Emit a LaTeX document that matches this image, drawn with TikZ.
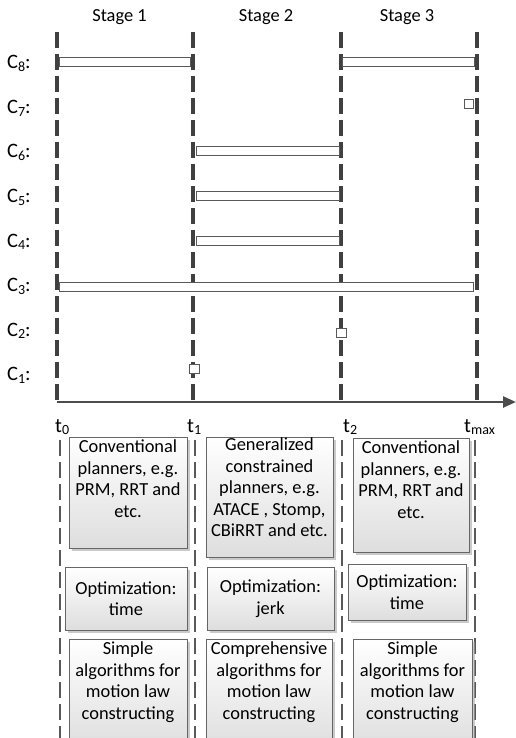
\documentclass[tikz,border=0pt]{standalone}
\usepackage{fontspec}
\setmainfont{Carlito}
\usetikzlibrary{arrows.meta,shadows}
\newcommand\mysub[1]{\raisebox{-0.14em}{\fontsize{14}{14}\selectfont #1}}
\tikzset{
  vline/.style={draw=black!75, line width=3.2pt, dash pattern=on 16pt off 6pt},
  lline/.style={draw=black!65, line width=2.2pt, dash pattern=on 16pt off 6pt},
  bar/.style={draw=black!65, fill=white, line width=0.9pt, inner sep=0pt, minimum height=9pt},
  sq/.style={draw=black!65, fill=white, line width=0.9pt, inner sep=0pt, minimum width=9pt, minimum height=9pt},
  lbl/.style={inner sep=0pt, font=\fontsize{18.4}{21.5}\selectfont},
  biglbl/.style={inner sep=0pt, font=\fontsize{20.5}{22}\selectfont},
  box/.style={draw=black!60, line width=0.9pt, top color=white, bottom color=black!13, inner sep=0pt,
    drop shadow={shadow xshift=2.5pt, shadow yshift=-2.5pt, fill=black!35, opacity=0.6}},
  boxtext/.style={lbl, align=center, anchor=north},
}
\begin{document}
\begin{tikzpicture}[x=1pt, y=-1pt]
\useasboundingbox (0,0) rectangle (516,738);
\clip (0,0) rectangle (516,738);
% stage labels
\node[lbl, anchor=base] (s1) at (119.5,22) {Stage 1};
\node[lbl, anchor=base] (s2) at (266,22) {Stage 2};
\node[lbl, anchor=base] (s3) at (407,22) {Stage 3};
% C labels
\foreach \k/\yy in {8/69,7/113.5,6/158,5/202.5,4/247,3/291.5,2/336,1/380.5}{
  \node[biglbl, anchor=base west] (C\k) at (7,\yy) {C\mysub{\k}:};
}
% vertical dashed lines (upper)
\coordinate (u0t) at (57,32);  \coordinate (u0b) at (57,402);
\coordinate (u1t) at (193,32); \coordinate (u1b) at (193,402);
\coordinate (u2t) at (341,32); \coordinate (u2b) at (341,402);
\coordinate (u3t) at (477,32); \coordinate (u3b) at (477,402);
\draw[vline] (u0t) -- (u0b);
\draw[vline] (u1t) -- (u1b);
\draw[vline] (u2t) -- (u2b);
\draw[vline] (u3t) -- (u3b);
% axis
\coordinate (ax0) at (57,402); \coordinate (ax1) at (516,402);
\draw[draw=black!70, line width=2.4pt, -{Triangle[length=13pt,width=11pt]}] (ax0) -- (ax1);
% bars
\node[bar, minimum width=131pt] (c8a) at (124.5,61.5) {};
\node[bar, minimum width=132pt] (c8b) at (408,61.5) {};
\node[sq] (c7) at (468.5,103.5) {};
\node[bar, minimum width=143pt] (c6) at (267.5,150.5) {};
\node[bar, minimum width=143pt] (c5) at (267.5,195.5) {};
\node[bar, minimum width=143pt] (c4) at (267.5,241) {};
\node[bar, minimum width=414pt] (c3) at (266,286.5) {};
\node[sq, minimum width=10pt] (c2) at (341,332.5) {};
\node[sq, minimum width=10pt] (c1) at (194,369) {};
% t labels
\node[biglbl, anchor=base west] (t0) at (55,432) {t\mysub{0}};
\node[biglbl, anchor=base west] (t1) at (187,432) {t\mysub{1}};
\node[biglbl, anchor=base west] (t2) at (343,432) {t\mysub{2}};
\node[biglbl, anchor=base west] (tm) at (464,432) {t\mysub{max}};
% lower dashed lines
\coordinate (l0t) at (60,440);  \coordinate (l0b) at (60,745);
\coordinate (l1t) at (195,440); \coordinate (l1b) at (195,745);
\coordinate (l2t) at (342,440); \coordinate (l2b) at (342,745);
\coordinate (l3t) at (475,440); \coordinate (l3b) at (475,745);
\draw[lline] (l0t) -- (l0b);
\draw[lline] (l1t) -- (l1b);
\draw[lline] (l2t) -- (l2b);
\draw[lline] (l3t) -- (l3b);
% boxes column 1
\node[box, minimum width=118pt, minimum height=111pt] (b11) at (128,492.5) {};
\node[boxtext] (b11t) at ([yshift=-3pt]b11.north) {Conventional\\planners, e.g.\\PRM, RRT and\\etc.};
\node[box, minimum width=122pt, minimum height=63pt] (b12) at (126,598.5) {};
\node[lbl, align=center] (b12t) at (b12) {Optimization:\\time};
\node[box, minimum width=118pt, minimum height=110pt] (b13) at (128,694) {};
\node[boxtext] (b13t) at ([yshift=-3pt]b13.north) {Simple\\algorithms for\\motion law\\constructing};
% boxes column 2
\node[box, minimum width=127pt, minimum height=120pt] (b21) at (269.5,497) {};
\node[boxtext] (b21t) at ([yshift=-1pt]b21.north) {Generalized\\constrained\\planners, e.g.\\ATACE , Stomp,\\CBiRRT and etc.};
\node[box, minimum width=127pt, minimum height=63pt] (b22) at (270.5,598.5) {};
\node[lbl, align=center] (b22t) at (b22) {Optimization:\\jerk};
\node[box, minimum width=126pt, minimum height=110pt] (b23) at (269,694) {};
\node[boxtext] (b23t) at ([yshift=-3pt]b23.north) {Comprehensive\\algorithms for\\motion law\\constructing};
% boxes column 3
\node[box, minimum width=116pt, minimum height=114pt] (b31) at (411,495) {};
\node[boxtext] (b31t) at ([yshift=-3pt]b31.north) {Conventional\\planners, e.g.\\PRM, RRT and\\etc.};
\node[box, minimum width=118pt, minimum height=56pt] (b32) at (407,592) {};
\node[lbl, align=center] (b32t) at (b32) {Optimization:\\time};
\node[box, minimum width=119pt, minimum height=110pt] (b33) at (412.5,694) {};
\node[boxtext] (b33t) at ([yshift=-3pt]b33.north) {Simple\\algorithms for\\motion law\\constructing};
\end{tikzpicture}
\end{document}
